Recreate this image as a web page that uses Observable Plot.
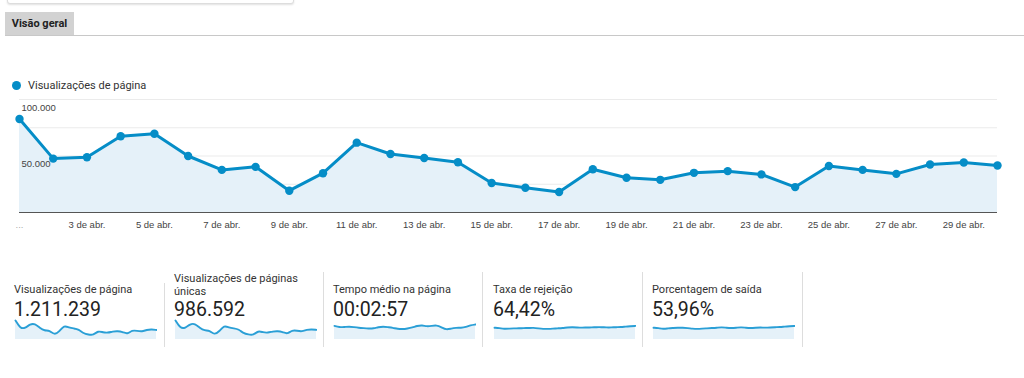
<!DOCTYPE html>
<html>
<head>
<meta charset="utf-8">
<script src="https://cdn.jsdelivr.net/npm/d3@7"></script>
<script src="https://cdn.jsdelivr.net/npm/@observablehq/plot@0.6"></script>
<style>
  html, body { margin: 0; padding: 0; background: #fff; }
  body { width: 1024px; height: 378px; position: relative; overflow: hidden; font-family: Roboto, "Liberation Sans", Arial, sans-serif; color: #333; }
  .abs { position: absolute; }
  #topbox { left: 7px; top: -10px; width: 285px; height: 12px; border: 1px solid #ddd; border-radius: 3px; box-shadow: 0 1px 2px rgba(0,0,0,0.12); background: #fff; }
  #tab { left: 5px; top: 12px; width: 69px; height: 23px; background: #d2d2d2; font: bold 11px Roboto, Arial, sans-serif; color: #222; line-height: 23px; text-align: center; }
  #tabline { left: 5px; top: 35px; width: 1019px; height: 1px; background: #c8c8c8; }
  #legend { left: 12px; top: 79px; font-size: 11px; color: #333; line-height: 14px; white-space: nowrap; }
  #legend .dot { display: inline-block; width: 9px; height: 9px; border-radius: 50%; background: #058dc7; margin-right: 7px; vertical-align: -1px; }
  #main { left: 0; top: 92px; }
  .card { position: absolute; top: 270px; width: 150px; }
  .card .lbl { position: absolute; left: 0; font-size: 11px; line-height: 13px; color: #333; white-space: nowrap; }
  .card .val { position: absolute; left: 0; top: 28px; font-size: 19.5px; line-height: 24px; color: #222; white-space: nowrap; }
  .card .spark { position: absolute; left: 0; top: 49px; }
  .sep { position: absolute; width: 1px; background: #ddd; }
</style>
</head>
<body>
<div id="topbox" class="abs"></div>
<div id="tab" class="abs">Visão geral</div>
<div id="tabline" class="abs"></div>
<div id="legend" class="abs"></div>
<div id="main" class="abs"></div>
<div id="cards"></div>
<script>
// ---- data ----
const days = [1,2,3,4,5,6,7,8,9,10,11,12,13,14,15,16,17,18,19,20,21,22,23,24,25,26,27,28,29,30];
const pageViews = [82800,47700,48900,67500,69700,50000,37700,40400,19300,34800,61800,51800,48200,44500,26100,21900,18200,38300,30700,28900,35100,36600,33700,22500,41200,37700,34200,42500,44200,41600];
const uniqueViews = [67000,38900,39800,55000,56700,40700,30800,33000,15900,28400,50300,42200,39300,36300,21300,17900,14900,31200,25000,23600,28600,29800,27400,18400,33600,30700,27900,34600,36000,33900];
const timeOnPage = [196,177,177,187,177,168,163,158,158,177,187,177,168,153,148,158,172,196,206,187,196,206,177,139,158,168,168,177,206,216];
const bounceRate = [64.4,62.7,57.8,59.4,61.1,61.1,62.7,62.7,64.4,61.1,57.8,57.8,59.4,61.1,62.7,66.0,67.7,66.0,64.4,66.0,66.0,67.7,67.7,66.0,66.0,67.7,67.7,71.0,72.6,74.3];
const exitRate = [53.8,52.4,48.3,51.1,52.4,53.8,53.8,52.4,49.7,48.3,49.7,51.1,52.4,53.8,56.6,53.8,52.4,53.8,56.6,53.8,52.4,53.8,55.2,53.8,55.2,56.6,56.6,59.3,60.7,62.1];

const seriesName = "Visualizações de página";
const xTicks = [1,3,5,7,9,11,13,15,17,19,21,23,25,27,29];
const xTickLabels = ["...","3 de abr.","5 de abr.","7 de abr.","9 de abr.","11 de abr.","13 de abr.","15 de abr.","17 de abr.","19 de abr.","21 de abr.","23 de abr.","25 de abr.","27 de abr.","29 de abr."];
const yGrid = [25000,50000,75000,100000];
const yTicks = [50000,100000];
const yTickLabels = ["50.000","100.000"];

const cardLabels = ["Visualizações de página","Visualizações de páginas<br>únicas","Tempo médio na página","Taxa de rejeição","Porcentagem de saída"];
const cardValues = ["1.211.239","986.592","00:02:57","64,42%","53,96%"];
const cardSeries = [pageViews, uniqueViews, timeOnPage, bounceRate, exitRate];
const cardMax = [82800, 67000, 273, 104, 87];

// ---- main chart ----
const BLUE = "#058dc7";
const FILL = "#e5f1f9";
const rows = days.map((d, i) => ({day: d, v: pageViews[i]}));
const tickRows = xTicks.map((t, i) => ({t, label: xTickLabels[i]}));
const yRows = yTicks.map((t, i) => ({t, label: yTickLabels[i]}));

document.getElementById("legend").innerHTML = `<span class="dot"></span>${seriesName}`;

const main = Plot.plot({
  width: 1024,
  height: 140,
  marginTop: 7,
  marginBottom: 20,
  marginLeft: 19,
  marginRight: 27,
  x: {domain: [1, 30], axis: null},
  y: {domain: [0, 100000], axis: null},
  style: {fontFamily: "'Liberation Sans', Arial, sans-serif", fontSize: "9.5px", color: "#444", background: "transparent"},
  marks: [
    Plot.ruleY(yGrid, {stroke: "#ebebeb", strokeWidth: 1}),
    Plot.areaY(rows, {x: "day", y: "v", fill: FILL, fillOpacity: 1}),
    Plot.lineY(rows, {x: "day", y: "v", stroke: BLUE, strokeWidth: 3, strokeLinejoin: "round"}),
    Plot.dot(rows, {x: "day", y: "v", r: 4.2, fill: BLUE, stroke: "none"}),
    Plot.ruleY([0], {stroke: "#555", strokeWidth: 1.2}),
    Plot.text(yRows, {x: 1, y: "t", text: "label", textAnchor: "start", dx: 2, dy: 8, fill: "#444", fontSize: 9.5}),
    Plot.text(tickRows, {x: "t", y: 0, text: "label", dy: 12, fill: (d) => d.t === 1 ? "#aaa" : "#444", fontSize: 9.5, textAnchor: "middle"})
  ]
});
document.getElementById("main").appendChild(main);

// ---- scorecards ----
const cardLeft = [14, 174, 333, 493, 652];
const sepX = [164, 323, 482, 642, 802];
const cards = document.getElementById("cards");
cardSeries.forEach((series, k) => {
  const card = document.createElement("div");
  card.className = "card";
  card.style.left = cardLeft[k] + "px";
  const lbl = document.createElement("div");
  lbl.className = "lbl";
  lbl.innerHTML = cardLabels[k];
  lbl.style.top = (cardLabels[k].includes("<br>") ? 2 : 13) + "px";
  card.appendChild(lbl);
  const val = document.createElement("div");
  val.className = "val";
  val.textContent = cardValues[k];
  card.appendChild(val);
  const srow = days.map((d, i) => ({day: d, v: series[i]}));
  const sp = Plot.plot({
    width: 143, height: 21,
    marginTop: 1, marginBottom: 1, marginLeft: 1, marginRight: 1,
    x: {domain: [1, 30], axis: null},
    y: {domain: [0, cardMax[k]], axis: null},
    style: {background: "transparent"},
    marks: [
      Plot.areaY(srow, {x: "day", y: "v", fill: FILL, curve: "basis"}),
      Plot.lineY(srow, {x: "day", y: "v", stroke: "#2a9fd6", strokeWidth: 1.9, curve: "basis"})
    ]
  });
  const sw = document.createElement("div");
  sw.className = "spark";
  sw.appendChild(sp);
  card.appendChild(sw);
  cards.appendChild(card);
});
sepX.forEach((x, k) => {
  const s = document.createElement("div");
  s.className = "sep";
  s.style.left = x + "px";
  s.style.top = (k === 0 ? 283 : 272) + "px";
  s.style.height = (347 - (k === 0 ? 283 : 272)) + "px";
  cards.appendChild(s);
});
</script>
</body>
</html>
